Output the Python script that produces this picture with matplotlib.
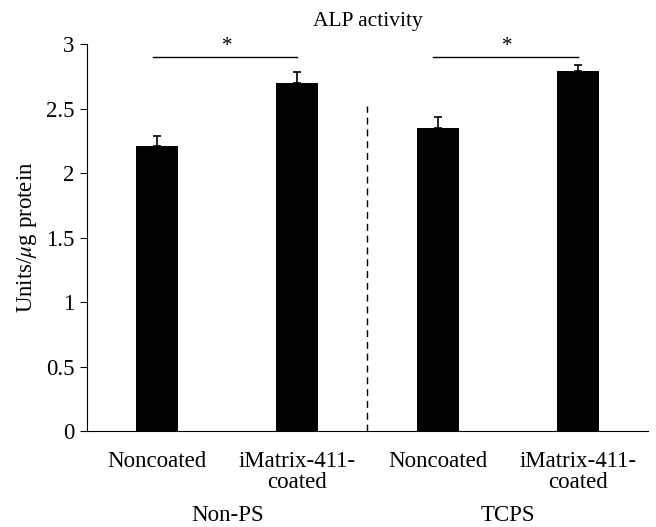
import matplotlib.pyplot as plt
import numpy as np

plt.rcParams['font.family'] = ['Liberation Serif', 'DejaVu Serif']
plt.rcParams['mathtext.fontset'] = 'stix'

categories = ['Noncoated', 'iMatrix-411-\ncoated', 'Noncoated', 'iMatrix-411-\ncoated']
groups = ['Non-PS', 'TCPS']
values = [2.21, 2.695, 2.35, 2.79]
errors = [0.08, 0.085, 0.085, 0.05]
# significance brackets: (left bar, right bar)
sig_pairs = [(0, 1), (2, 3)]
sig_height = 2.9

fig = plt.figure(figsize=(6.56, 5.27), dpi=100)
ax = fig.add_axes([0.1326, 0.182, 0.855, 0.7345])

ind = np.arange(len(values))
ax.bar(ind, values, 0.3, color='black')
ax.errorbar(ind, values, yerr=[np.zeros(len(errors)), errors], fmt='none',
            ecolor='black', elinewidth=1.2, capsize=3, capthick=1.2)

for a, b in sig_pairs:
    ax.plot([a - 0.03, b], [sig_height, sig_height], color='black', lw=1)
    ax.text((a + b) / 2, sig_height + 0.005, '*', ha='center', va='bottom', fontsize=15)

ax.plot([1.5, 1.5], [0, 2.52], color='black', lw=1, ls=(0, (5, 3.5)))

ax.set_xlim(-0.5, 3.5)
ax.set_ylim(0, 3)
ax.set_yticks(np.arange(0, 3.01, 0.5))
ax.set_yticklabels(['0', '0.5', '1', '1.5', '2', '2.5', '3'])
ax.set_xticks(ind)
ax.set_xticklabels(categories, fontsize=16.5, linespacing=1.05)
ax.tick_params(axis='x', length=0, pad=14)
ax.tick_params(axis='y', labelsize=16.5, length=5, direction='out', pad=4)
for s in ['top', 'right']:
    ax.spines[s].set_visible(False)

for i, g in enumerate(groups):
    ax.text(2 * i + 0.5, -0.655, g, ha='center', va='center', fontsize=16.5,
            transform=ax.transData)

ax.set_ylabel(r'Units/$\mu$g protein', fontsize=16.5, labelpad=5)
ax.set_title('ALP activity', fontsize=15.5, pad=13)

fig.savefig('out.png', dpi=100)
